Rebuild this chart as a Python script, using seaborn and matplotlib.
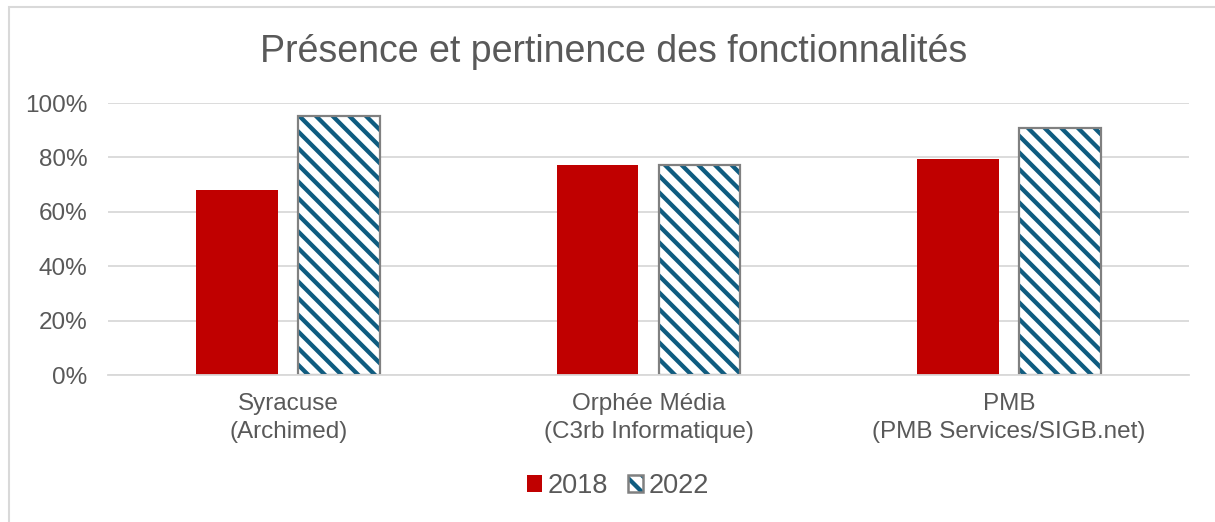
import matplotlib
matplotlib.use("Agg")
import matplotlib.pyplot as plt
import seaborn as sns
import pandas as pd
from matplotlib.patches import Rectangle, Patch
from matplotlib.legend_handler import HandlerTuple
from matplotlib.ticker import PercentFormatter

categories = ["Syracuse\n(Archimed)", "Orphée Média\n(C3rb Informatique)", "PMB\n(PMB Services/SIGB.net)"]
years = ["2018", "2022"]
values_2018 = [0.681, 0.772, 0.794]
values_2022 = [0.954, 0.773, 0.909]
yticks = [0, 0.2, 0.4, 0.6, 0.8, 1.0]

df = pd.DataFrame({
    "cat": categories * 2,
    "year": [years[0]] * 3 + [years[1]] * 3,
    "val": values_2018 + values_2022,
})

sns.set_theme(style="white")
plt.rcParams["font.family"] = ["Liberation Sans", "DejaVu Sans"]
plt.rcParams["hatch.linewidth"] = 3.1

TXT = "#595959"
RED = "#C00000"
BLUE = "#0F5C80"
GRID = "#D9D9D9"
FS = 17.5

fig = plt.figure(figsize=(12.15, 5.22), dpi=100)
ax = fig.add_axes([108 / 1215, 1 - 375.3 / 522, (1189 - 108) / 1215, (375.3 - 103) / 522])

sns.barplot(data=df, x="cat", y="val", hue="year", palette=[RED, "white"],
            width=0.567, gap=0.2, ax=ax, legend=False, saturation=1)

for p in ax.patches:
    p.set_linewidth(0)

n = len(categories)
hatched = ax.patches[n:2 * n]
for p in hatched:
    p.set_facecolor("white")
    p.set_edgecolor(BLUE)
    p.set_hatch("\\\\")
    p.set_linewidth(0)
    ax.add_patch(Rectangle(p.get_xy(), p.get_width(), p.get_height(), fill=False,
                           edgecolor="#808080", linewidth=1.6, zorder=p.get_zorder() + 0.1))

ax.set_ylim(0, 1.0)
ax.set_yticks(yticks)
ax.yaxis.set_major_formatter(PercentFormatter(1.0, decimals=0))
ax.grid(axis="y", color=GRID, linewidth=1.3)
ax.set_axisbelow(True)
for s in ["top", "right", "left"]:
    ax.spines[s].set_visible(False)
ax.spines["bottom"].set_color(GRID)
ax.spines["bottom"].set_linewidth(1.3)
ax.tick_params(axis="both", length=0, labelsize=FS, labelcolor=TXT)
ax.tick_params(axis="y", pad=15)
ax.tick_params(axis="x", pad=13)
ax.set_xlabel("")
ax.set_ylabel("")
for lbl in ax.get_xticklabels():
    lbl.set_linespacing(1.35)

fig.text(614 / 1215, 1 - 52 / 522, "Présence et pertinence des fonctionnalités",
         ha="center", va="center", fontsize=27, color=TXT)

h2018 = Patch(facecolor=RED, edgecolor=RED, linewidth=0)
h2022 = (Patch(facecolor="white", edgecolor=BLUE, hatch="\\\\", linewidth=0),
         Patch(facecolor="none", edgecolor="#808080", linewidth=1.8))
leg = fig.legend([h2018, h2022], years, loc="center", bbox_to_anchor=(618 / 1215, 1 - 486 / 522), ncol=2,
                 frameon=False, fontsize=19.5, handlelength=0.55, handleheight=0.55,
                 handletextpad=0.22, columnspacing=0.72, labelcolor=TXT,
                 handler_map={tuple: HandlerTuple(ndivide=1, pad=0)})

fig.patches.append(Rectangle((9 / 1215, -0.1), 1.2, 1 - 7 / 522 + 0.1, transform=fig.transFigure,
                             fill=False, edgecolor="#D9D9D9", linewidth=1.5))

fig.savefig("out.png", dpi=100)
